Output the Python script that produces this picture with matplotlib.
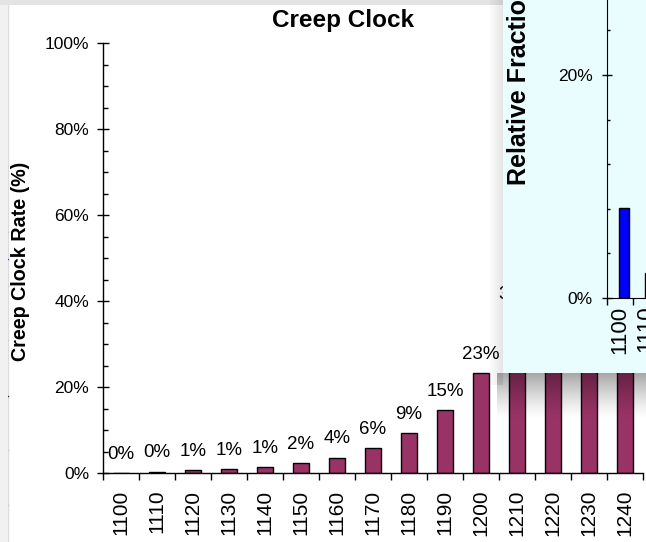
import numpy as np
import matplotlib
matplotlib.use("Agg")
import matplotlib.pyplot as plt
from matplotlib.patches import Rectangle
from matplotlib.lines import Line2D
from matplotlib.ticker import MultipleLocator, FixedLocator, FuncFormatter

plt.rcParams['font.family'] = ['Liberation Sans', 'DejaVu Sans']

# ---- data -------------------------------------------------------------
temperatures = ['1100', '1110', '1120', '1130', '1140', '1150', '1160', '1170',
                '1180', '1190', '1200', '1210', '1220', '1230', '1240']
creep_rate = [0.0, 0.3, 0.6, 0.9, 1.4, 2.3, 3.6, 5.8, 9.3, 14.7, 23.3, 37.2,
              52.0, 66.0, 78.0]

fraction_temps = ['1100', '1110']
relative_fraction = [8.1, 2.2]

W, H = 646, 542
fig = plt.figure(figsize=(W / 100, H / 100), dpi=100)
fig.patch.set_facecolor('white')


def fx(x):
    return x / W


def fy(y):
    return 1 - y / H


def box(x0, y0, x1, y1):
    return [fx(x0), fy(y1), fx(x1) - fx(x0), fy(y0) - fy(y1)]


# ---- window chrome around the chart --------------------------------------
fig.patches.append(Rectangle((0, fy(5)), fx(503), 1 - fy(5), transform=fig.transFigure,
                             facecolor='#e4e4e4', edgecolor='none', zorder=1))
fig.patches.append(Rectangle((0, 0), fx(8), fy(5), transform=fig.transFigure,
                             facecolor='#f1f1f1', edgecolor='none', zorder=1))
fig.lines.append(Line2D([fx(8), fx(8)], [0, fy(5)], transform=fig.transFigure,
                        color='#dcdcdc', lw=1, zorder=1))
for yy, c in [(232, '#c8c8c8'), (259, '#3050e0'), (286, '#c8c8c8'),
              (340, '#c8c8c8'), (396, '#303030'), (450, '#c8c8c8'), (505, '#c8c8c8')]:
    fig.lines.append(Line2D([0, fx(8)], [fy(yy), fy(yy)], transform=fig.transFigure,
                            color=c, lw=1, zorder=1))

# ---- main bar chart ------------------------------------------------------
ax = fig.add_axes(box(103, 43, 643, 473))
ax.set_facecolor('none')
x = np.arange(len(temperatures))
ax.bar(x, creep_rate, width=0.42, color='#993366', edgecolor='black', linewidth=1.0,
       zorder=2)
for xi, v in zip(x, creep_rate):
    ax.annotate(f"{v:.0f}%", (xi, v), xytext=(0, 13.5), textcoords='offset points',
                ha='center', va='center', fontsize=13.5, color='black',
                annotation_clip=False)

ax.set_xlim(-0.5, len(temperatures) - 0.5)
ax.set_ylim(0, 100)
for s in ('top', 'right'):
    ax.spines[s].set_visible(False)
for s in ('left', 'bottom'):
    ax.spines[s].set_linewidth(1.0)

ax.yaxis.set_major_locator(MultipleLocator(20))
ax.yaxis.set_minor_locator(MultipleLocator(5))
ax.yaxis.set_major_formatter(FuncFormatter(lambda v, p: f"{v:.0f}%"))
ax.tick_params(axis='y', which='major', direction='inout', length=8, width=1,
               labelsize=12.5, pad=6)
ax.tick_params(axis='y', which='minor', direction='in', length=3.6, width=1)

ax.set_xticks(x)
ax.set_xticklabels(temperatures, rotation=90, fontsize=15)
ax.xaxis.set_minor_locator(FixedLocator(np.arange(-0.5, len(temperatures), 1)))
ax.tick_params(axis='x', which='major', length=0, pad=12)
ax.tick_params(axis='x', which='minor', direction='out', length=5, width=1)

fig.text(fx(343), fy(20), 'Creep Clock', ha='center', va='center',
         fontsize=17.5, fontweight='bold')
fig.text(fx(21), fy(261), 'Creep Clock Rate (%)', ha='center', va='center',
         rotation=90, fontsize=14.2, fontweight='bold')

# ---- overlapping window with the fraction histogram ----------------------
panel = fig.add_axes(box(503, 0, 646, 373), zorder=3)
panel.set_facecolor('#e9fcfe')
panel.set_xticks([])
panel.set_yticks([])
for s in panel.spines.values():
    s.set_visible(False)

# soft drop shadow left of and below the window
shade_l = fig.add_axes(box(490, 0, 503, 385), zorder=3)
grad_l = np.zeros((2, 13, 4))
grad_l[..., 3] = np.linspace(0.02, 0.10, 13)[None, :]
shade_l.imshow(grad_l, aspect='auto', extent=(0, 1, 0, 1), interpolation='bilinear')
shade_l.axis('off')

shade_b = fig.add_axes(box(497, 373, 646, 420), zorder=3)
grad_b = np.zeros((47, 2, 4))
grad_b[..., 3] = (np.linspace(0.45, 0.0, 47) ** 1.3)[:, None]
shade_b.imshow(grad_b, aspect='auto', extent=(0, 1, 0, 1), interpolation='bilinear')
shade_b.axis('off')

px_per_pct = 223 / 20
cat_px = 26
n_cols = 6
inner = fig.add_axes(box(607, 298 - 30 * px_per_pct, 607 + cat_px * n_cols, 298),
                     zorder=4)
inner.set_facecolor('none')
xf = np.arange(len(fraction_temps))
inner.bar(xf + 0.15, relative_fraction, width=0.4, color='#0000ff',
          edgecolor='black', linewidth=1.0)
inner.set_xlim(-0.5, n_cols - 0.5)
inner.set_ylim(0, 30)
for s in ('top', 'right'):
    inner.spines[s].set_visible(False)
inner.yaxis.set_major_locator(MultipleLocator(20))
inner.yaxis.set_minor_locator(MultipleLocator(4))
inner.yaxis.set_major_formatter(FuncFormatter(lambda v, p: f"{v:.0f}%"))
inner.tick_params(axis='y', which='major', direction='inout', length=7, width=1,
                  labelsize=12.5, pad=7)
inner.tick_params(axis='y', which='minor', direction='in', length=2.5, width=1)
inner.set_xticks(xf)
inner.set_xticklabels(fraction_temps, rotation=90, fontsize=16)
inner.xaxis.set_minor_locator(FixedLocator(np.arange(-0.5, len(fraction_temps), 1)))
inner.tick_params(axis='x', which='major', length=0, pad=5.5)
inner.tick_params(axis='x', which='minor', direction='out', length=5, width=1)

fig.text(fx(519), fy(185), 'Relative Fraction (%)', ha='center', va='bottom',
         rotation=90, fontsize=18, fontweight='bold', zorder=5)

fig.savefig('out.png', dpi=100)
